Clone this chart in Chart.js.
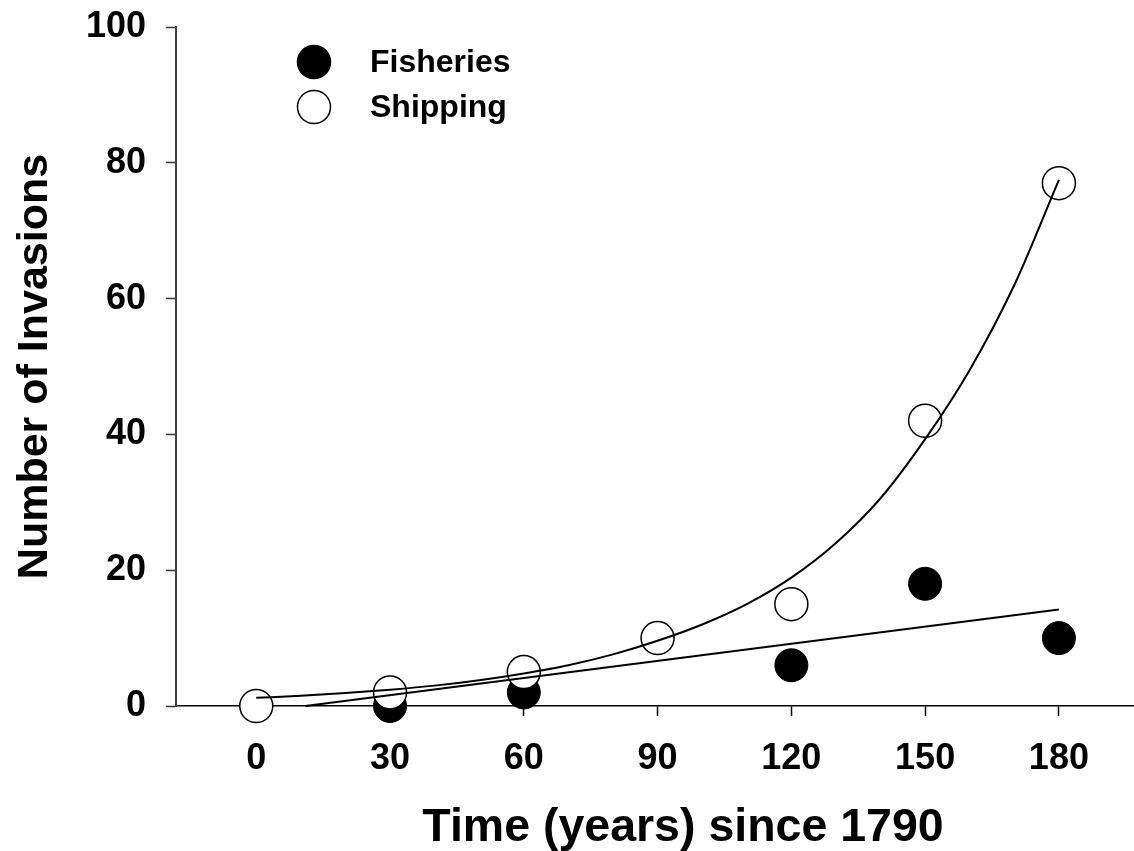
<!DOCTYPE html>
<html lang="en">
<head>
<meta charset="UTF-8">
<title>Number of Invasions</title>
<script src="https://cdn.jsdelivr.net/npm/chart.js"></script>
<style>
  html, body { margin: 0; padding: 0; background: #fff; overflow: hidden; }
  /* the x axis of the original runs past the right edge of the picture */
  #wrap { width: 1208px; height: 851px; position: relative; }
</style>
</head>
<body>
<div id="wrap"><canvas id="invChart" width="1208" height="851"></canvas></div>
<script>
// observed points
const years = [0, 30, 60, 90, 120, 150, 180];
const shipping = [0, 2, 5, 10, 15, 42, 77];
const fisheriesYears = [30, 60, 120, 150, 180];
const fisheries = [0, 2, 6, 18, 10];

// fitted lines
const shipFitYears = [0, 10, 20, 30, 40, 50, 60, 70, 80, 90, 100, 110, 120, 130, 140, 150, 160, 170, 180];
const shipFit = [1.2, 1.5, 1.9, 2.4, 3.0, 3.8, 4.8, 6.0, 7.6, 9.6, 12.0, 15.0, 18.9, 24.0, 30.6, 39.3, 49.5, 62.0, 77.5];
const fishFitYears = [11, 180];
const fishFit = [0, 14.2];

const xTicks = [0, 30, 60, 90, 120, 150, 180];
const yTicks = [0, 20, 40, 60, 80, 100];

const FONT = '"Liberation Sans", Arial, sans-serif';
const pts = (xs, ys) => xs.map((x, i) => ({ x: x, y: ys[i] }));

// small legend drawn inside the plot, top left
const legendPlugin = {
  id: 'insideLegend',
  afterDraw(chart) {
    const ctx = chart.ctx;
    const items = chart.data.datasets.filter(d => d.inLegend)
      .sort((a, b) => a.legendPos - b.legendPos);
    ctx.save();
    ctx.font = 'bold 32px ' + FONT;
    ctx.textBaseline = 'middle';
    items.forEach((d, i) => {
      const cx = 314, cy = 62 + i * 45;
      ctx.beginPath();
      ctx.arc(cx, cy, 16.5, 0, Math.PI * 2);
      ctx.fillStyle = d.backgroundColor;
      ctx.fill();
      ctx.lineWidth = 1.5;
      ctx.strokeStyle = '#000';
      ctx.stroke();
      ctx.fillStyle = '#000';
      ctx.fillText(d.label, 370, cy + 1);
    });
    ctx.restore();
  }
};

new Chart(document.getElementById('invChart'), {
  type: 'scatter',
  data: {
    datasets: [
      {
        label: 'Shipping fit',
        data: pts(shipFitYears, shipFit),
        showLine: true,
        borderColor: '#000',
        borderWidth: 2,
        pointRadius: 0,
        cubicInterpolationMode: 'monotone',
        order: 0,
        clip: false
      },
      {
        label: 'Fisheries fit',
        data: pts(fishFitYears, fishFit),
        showLine: true,
        borderColor: '#000',
        borderWidth: 2,
        pointRadius: 0,
        order: 0,
        clip: false
      },
      {
        label: 'Shipping',
        inLegend: true,
        legendPos: 2,
        data: pts(years, shipping),
        backgroundColor: '#fff',
        borderColor: '#000',
        borderWidth: 1.5,
        pointRadius: 16.5,
        order: 1,
        clip: false
      },
      {
        label: 'Fisheries',
        inLegend: true,
        legendPos: 1,
        data: pts(fisheriesYears, fisheries),
        backgroundColor: '#000',
        borderColor: '#000',
        borderWidth: 1,
        pointRadius: 16.5,
        order: 2,
        clip: false
      }
    ]
  },
  options: {
    responsive: false,
    animation: false,
    layout: { padding: { top: 27, right: 0, left: 0, bottom: 0 } },
    plugins: {
      legend: { display: false },
      tooltip: { enabled: false }
    },
    scales: {
      x: {
        type: 'linear',
        min: -18,
        max: 209.4,
        afterBuildTicks: s => { s.ticks = xTicks.map(v => ({ value: v })); },
        afterFit: s => { s.height = 145; s.paddingLeft = 0; s.paddingRight = 0; },
        grid: { drawOnChartArea: false, drawTicks: true, tickLength: 10, tickColor: '#000', tickWidth: 1.5 },
        border: { display: true, color: '#000', width: 1.5 },
        ticks: { color: '#000', font: { family: FONT, size: 36, weight: 'bold' }, padding: 21, maxRotation: 0 },
        title: {
          display: true,
          text: 'Time (years) since 1790',
          color: '#000',
          font: { family: FONT, size: 46.5, weight: 'bold', lineHeight: 1 },
          padding: { top: 0, bottom: 0 }
        }
      },
      y: {
        min: 0,
        max: 100,
        afterBuildTicks: s => { s.ticks = yTicks.map(v => ({ value: v })); },
        afterFit: s => { s.width = 176; s.paddingTop = 0; s.paddingBottom = 0; },
        grid: { drawOnChartArea: false, drawTicks: true, tickLength: 10, tickColor: '#333', tickWidth: 1.5 },
        border: { display: true, color: '#444', width: 2 },
        ticks: { color: '#000', font: { family: FONT, size: 36, weight: 'bold' }, padding: 20 },
        title: {
          display: true,
          text: 'Number of Invasions',
          color: '#000',
          font: { family: FONT, size: 43, weight: 'bold', lineHeight: 1 },
          padding: { top: 14, bottom: 0 }
        }
      }
    }
  },
  plugins: [legendPlugin]
});
</script>
</body>
</html>
